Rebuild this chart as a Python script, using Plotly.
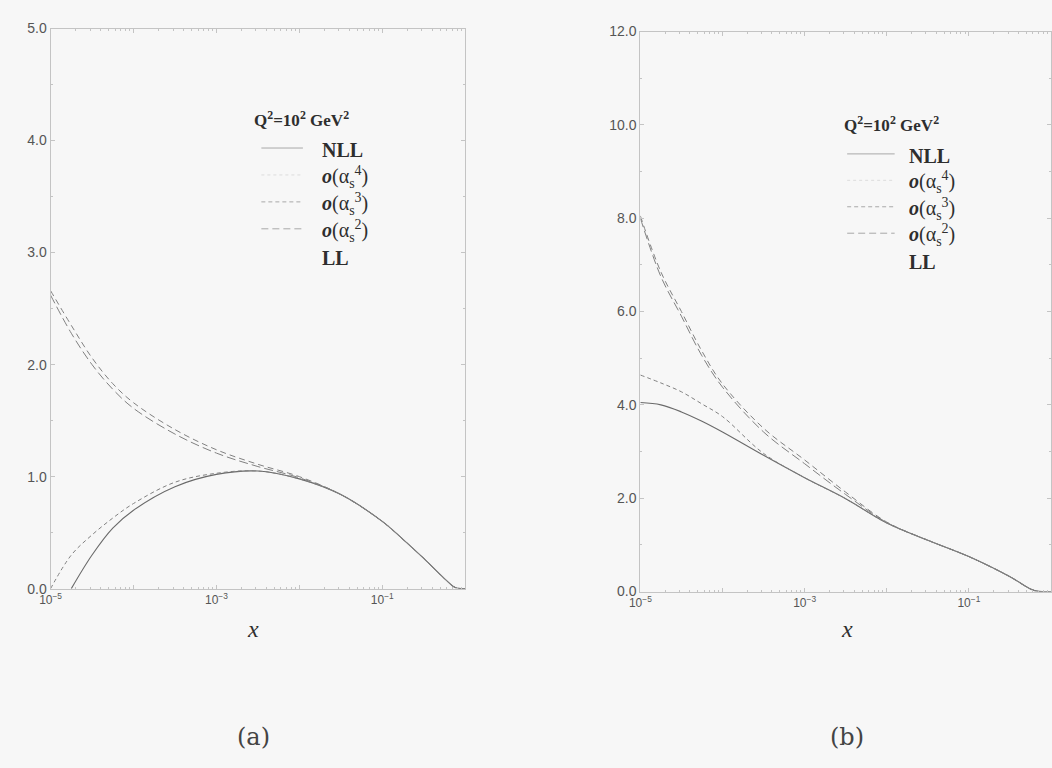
import plotly.graph_objects as go

W, H = 1052, 768

# ---------------- data : panel (a) ----------------
logx_a = [-5, -4.75, -4.5, -4.25, -4, -3.5, -3, -2.5, -2, -1.5, -1, -0.75, -0.5, -0.25, -0.12, 0]
nll_a = [None, 0.0, 0.30, 0.54, 0.70, 0.91, 1.02, 1.05, 0.98, 0.84, 0.60, 0.44, 0.27, 0.09, 0.01, 0.0]
o4_a = [0.0, 0.30, 0.48, 0.63, 0.76, 0.95, 1.03, 1.05, 0.98, 0.84, 0.60, 0.44, 0.27, 0.09, 0.01, 0.0]
o3_a = [2.66, 2.35, 2.06, 1.83, 1.66, 1.42, 1.24, 1.11, 1.00, 0.84, 0.60, 0.44, 0.27, 0.09, 0.01, 0.0]
o2_a = [2.62, 2.28, 2.00, 1.78, 1.61, 1.38, 1.21, 1.09, 0.99, 0.84, 0.60, 0.44, 0.27, 0.09, 0.01, 0.0]

# ---------------- data : panel (b) ----------------
logx_b = [-5, -4.75, -4.5, -4.25, -4, -3.5, -3, -2.5, -2, -1.5, -1, -0.5, -0.2, 0]
nll_b = [4.05, 4.00, 3.85, 3.65, 3.42, 2.92, 2.44, 1.99, 1.47, 1.10, 0.75, 0.32, 0.02, 0.0]
o4_b = [4.64, 4.47, 4.28, 4.02, 3.75, 2.96, 2.44, 1.99, 1.47, 1.10, 0.75, 0.32, 0.02, 0.0]
o3_b = [8.05, 6.85, 6.00, 5.15, 4.45, 3.50, 2.82, 2.13, 1.49, 1.10, 0.75, 0.32, 0.02, 0.0]
o2_b = [8.00, 6.75, 5.90, 5.05, 4.38, 3.42, 2.74, 2.08, 1.48, 1.10, 0.75, 0.32, 0.02, 0.0]

legend_labels = ["NLL",
                 "<b><i>o</i></b>(α<sub>s</sub><sup>4</sup>)",
                 "<b><i>o</i></b>(α<sub>s</sub><sup>3</sup>)",
                 "<b><i>o</i></b>(α<sub>s</sub><sup>2</sup>)",
                 "LL"]
x_tick_vals = [1e-5, 1e-4, 1e-3, 1e-2, 1e-1, 1]
x_tick_text = ["10<sup>−5</sup>", "", "10<sup>−3</sup>", "", "10<sup>−1</sup>", ""]

LINE = "#6a6a6a"
DASH = "#808080"
TXT = "#2e2e2e"
AX = "#c4c4c4"

def xs(lx):
    return [10 ** v for v in lx]

fig = go.Figure()

styles = [
    ("NLL", dict(color=LINE, width=1.1, dash="solid")),
    ("o4", dict(color=DASH, width=1.0, dash="4px,3px")),
    ("o3", dict(color=DASH, width=1.0, dash="6px,4px")),
    ("o2", dict(color=DASH, width=1.0, dash="9px,4px")),
]

for (name, st), ys in zip(styles, [nll_a, o4_a, o3_a, o2_a]):
    fig.add_trace(go.Scatter(x=xs(logx_a), y=ys, mode="lines", name=name,
                             line=dict(shape="spline", smoothing=1.0, **st),
                             xaxis="x", yaxis="y", showlegend=False, connectgaps=False))
for (name, st), ys in zip(styles, [nll_b, o4_b, o3_b, o2_b]):
    fig.add_trace(go.Scatter(x=xs(logx_b), y=ys, mode="lines", name=name,
                             line=dict(shape="spline", smoothing=1.0, **st),
                             xaxis="x2", yaxis="y2", showlegend=False))

def px_x(p):
    return min(max(p / W, 0.0), 1.0)

def px_y(p):
    return min(max(1 - p / H, 0.0), 1.0)

tickfont = dict(family="Liberation Sans, Arial, sans-serif", size=14, color="#555555")
xtickfont = dict(family="Liberation Sans, Arial, sans-serif", size=12, color="#555555")

common_x = dict(type="log", range=[-5, 0], tickmode="array", tickvals=x_tick_vals,
                ticktext=x_tick_text, ticks="inside", ticklen=4, tickcolor=AX,
                showline=True, linecolor=AX, linewidth=1, mirror="ticks",
                showgrid=False, zeroline=False, tickfont=xtickfont,
                minor=dict(ticks="inside", ticklen=2, tickcolor=AX, dtick="D1"))
common_y = dict(ticks="inside", ticklen=4, tickcolor=AX, showline=True, linecolor=AX,
                linewidth=1, mirror="ticks", showgrid=False, zeroline=False,
                tickfont=tickfont, tickformat=".1f")

fig.update_layout(
    width=W, height=H,
    margin=dict(l=0, r=0, t=0, b=0),
    paper_bgcolor="#f7f7f7", plot_bgcolor="rgba(0,0,0,0)",
    xaxis=dict(domain=[px_x(40), px_x(459)], anchor="y", **common_x),
    yaxis=dict(domain=[px_y(593), px_y(21)], anchor="x", range=[0, 5], dtick=1,
               minor=dict(ticks="inside", ticklen=2, tickcolor=AX, dtick=0.5), **common_y),
    xaxis2=dict(domain=[px_x(636), px_x(1051)], anchor="y2", **common_x),
    yaxis2=dict(domain=[px_y(596), px_y(24)], anchor="x2", range=[0, 12], dtick=2,
                minor=dict(ticks="inside", ticklen=2, tickcolor=AX, dtick=1), **common_y),
)

serif = "Liberation Serif, Times New Roman, serif"
ann = []
shapes = []

def add_legend(title_x, title_y, text_x, row_y0, line_x0, line_x1, rowstep):
    ann.append(dict(x=px_x(title_x), y=px_y(title_y), xref="paper", yref="paper",
                    text="<b>Q<sup>2</sup>=10<sup>2</sup> GeV<sup>2</sup></b>", showarrow=False,
                    xanchor="center", yanchor="middle",
                    font=dict(family=serif, size=17, color=TXT)))
    dashes = ["solid", "dot", "4px,3px", "7px,4px", None]
    for i, lab in enumerate(legend_labels):
        yy = row_y0 + i * rowstep
        txt = "<b>" + lab + "</b>" if lab in ("NLL", "LL") else lab
        ann.append(dict(x=px_x(text_x), y=px_y(yy), xref="paper", yref="paper",
                        text=txt, showarrow=False, xanchor="left", yanchor="middle",
                        font=dict(family=serif, size=20, color=TXT)))
        d = dashes[i]
        if d is not None:
            col = "#dcdcdc" if d == "dot" else "#a8a8a8"
            shapes.append(dict(type="line", xref="paper", yref="paper",
                               x0=px_x(line_x0), x1=px_x(line_x1),
                               y0=px_y(yy - 2), y1=px_y(yy - 2),
                               line=dict(color=col, width=1, dash=d)))

add_legend(294, 113, 312, 145, 253, 295, 27.5)
add_legend(890, 118, 905, 151, 845, 893, 27)

for cx, lab in [(245, "(a)"), (845, "(b)")]:
    ann.append(dict(x=px_x(cx), y=px_y(634), xref="paper", yref="paper", text="<i>x</i>",
                    showarrow=False, xanchor="center", yanchor="middle",
                    font=dict(family=serif, size=24, color=TXT)))
    ann.append(dict(x=px_x(cx), y=px_y(745), xref="paper", yref="paper", text=lab,
                    showarrow=False, xanchor="center", yanchor="middle",
                    font=dict(family="DejaVu Serif, serif", size=24, color="#444444")))

fig.update_layout(annotations=ann, shapes=shapes)
fig.write_html("out.html", config={"displayModeBar": False},
               post_script="document.body.style.margin='0px';document.body.style.overflow='hidden';")
